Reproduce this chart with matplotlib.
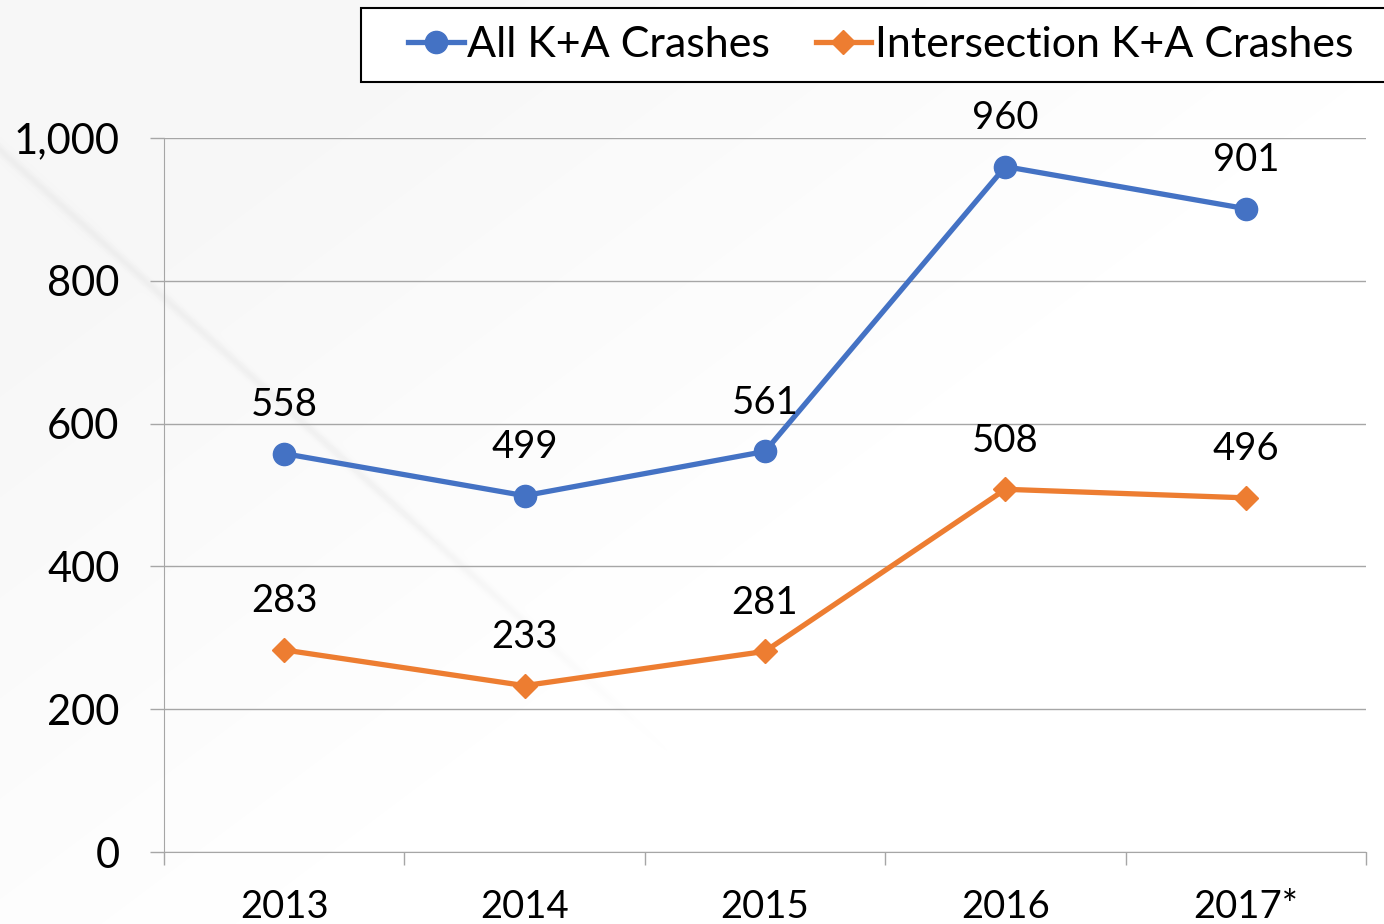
import matplotlib
matplotlib.use("Agg")
import matplotlib.pyplot as plt
from matplotlib.patches import Rectangle
import numpy as np

years = ["2013", "2014", "2015", "2016", "2017*"]
all_ka = [558, 499, 561, 960, 901]
inter_ka = [283, 233, 281, 508, 496]
yticks = [0, 200, 400, 600, 800, 1000]
ytick_labels = ["0", "200", "400", "600", "800", "1,000"]

blue = "#4472C4"
orange = "#ED7D31"
plt.rcParams['font.family'] = ['Lato', 'DejaVu Sans']

W, H = 1384, 924
fig = plt.figure(figsize=(W/100, H/100), dpi=100)
fig.patch.set_facecolor("white")

# subtle background streaks
bg = fig.add_axes([0, 0, 1, 1], zorder=-10)
yy, xx = np.mgrid[0:H, 0:W]
d = (xx * 0.75 + yy * 1.0)
img = np.ones((H, W))
band = 0.965 + 0.035 * np.clip((d - 300) / 900, 0, 1)
img = np.minimum(img, band)
dist = np.abs((yy - 150) - (xx * 0.9))
img = img - 0.035 * np.exp(-(dist / 6) ** 2) * np.clip((700 - xx) / 300, 0, 1)
bg.imshow(img, cmap="gray", vmin=0, vmax=1, aspect="auto", extent=[0, 1, 0, 1])
bg.axis("off")

ax = fig.add_axes([164/W, 1 - 852/H, (1366-164)/W, (852-138)/H])
ax.patch.set_alpha(0)
x = np.arange(len(years))
ax.plot(x, all_ka, color=blue, lw=3.8, marker="o", ms=16, label="All K+A Crashes", zorder=3)
ax.plot(x, inter_ka, color=orange, lw=3.8, marker="D", ms=12.5, label="Intersection K+A Crashes", zorder=3)

for xi, v in zip(x, all_ka):
    ax.annotate(str(v), (xi, v), xytext=(0, 35), textcoords="offset points",
                ha="center", va="center", fontsize=27.5, color="#000000")
for xi, v in zip(x, inter_ka):
    ax.annotate(str(v), (xi, v), xytext=(0, 35), textcoords="offset points",
                ha="center", va="center", fontsize=27.5, color="#000000")

ax.set_xlim(-0.5, 4.5)
ax.set_ylim(0, 1000)
ax.set_yticks(yticks)
ax.set_yticklabels(ytick_labels, fontsize=30)
ax.set_xticks(np.arange(-0.5, 5, 1))
ax.set_xticklabels([])
ax.set_xticks(x, minor=True)
ax.set_xticklabels(years, minor=True, fontsize=27.5)
ax.tick_params(axis="x", which="major", length=9, color="#A6A6A6", width=1)
ax.tick_params(axis="x", which="minor", length=0, pad=27)
ax.tick_params(axis="y", length=10, color="#A6A6A6", width=1, pad=22)
ax.grid(axis="y", color="#A6A6A6", lw=1)
for s in ["top", "right"]:
    ax.spines[s].set_visible(False)
ax.spines["left"].set_color("#A6A6A6")
ax.spines["bottom"].set_color("#A6A6A6")

# legend frame
fig.patches.append(Rectangle((361/W, 1 - 82/H), (1390-361)/W, 74/H, transform=fig.transFigure,
                             facecolor="white", edgecolor="black", lw=1.5, zorder=1))
leg = fig.legend(loc="center left", bbox_to_anchor=(408/W, 1 - 45/H), ncol=2, fontsize=31,
                 frameon=False, handlelength=1.3, handletextpad=0.08, columnspacing=1.05,
                 borderpad=0, borderaxespad=0)
leg.set_zorder(2)

fig.savefig("out.png", dpi=100)
